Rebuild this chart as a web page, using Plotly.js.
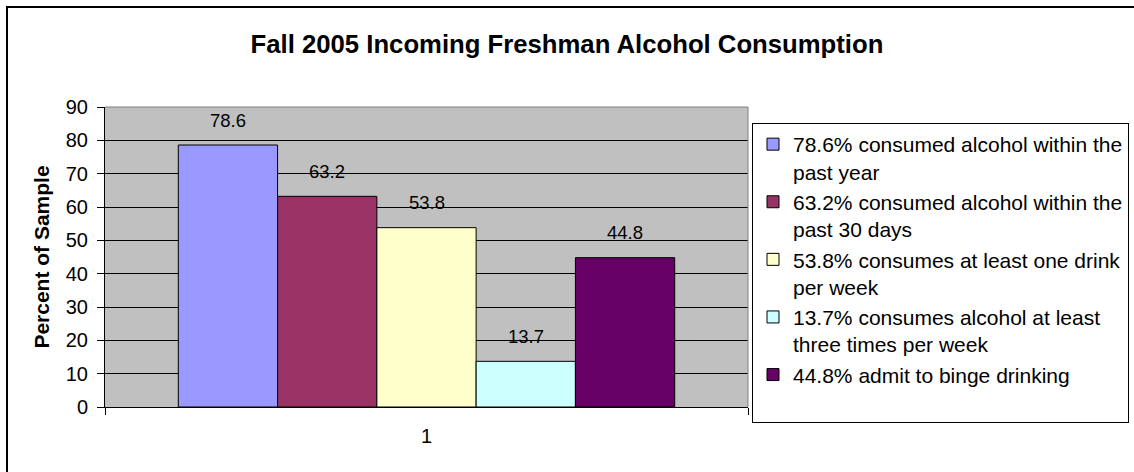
<!DOCTYPE html>
<html>
<head>
<meta charset="utf-8">
<script src="https://cdn.plot.ly/plotly-3.0.1.min.js"></script>
<style>
  html, body { margin: 0; padding: 0; background: #ffffff; }
  #chart { width: 1134px; height: 472px; }
</style>
</head>
<body>
<div id="chart"></div>
<script>
// ---- data ----
const categories = ['1'];
const seriesNames = [
  '78.6% consumed alcohol within the<br>past year',
  '63.2% consumed alcohol within the<br>past 30 days',
  '53.8% consumes at least one drink<br>per week',
  '13.7% consumes alcohol at least<br>three times per week',
  '44.8% admit to binge drinking<br> '
];
const seriesValues = [78.6, 63.2, 53.8, 13.7, 44.8];
const seriesColors = ['#9999FF', '#993366', '#FFFFCC', '#CCFFFF', '#660066'];
const yTicks = [0, 10, 20, 30, 40, 50, 60, 70, 80, 90];

// ---- layout constants ----
const W = 1134, H = 472;
const M = { l: 105, r: 386, t: 107, b: 65, autoexpand: false };
const plotW = W - M.l - M.r;
const plotH = H - M.t - M.b;
const bargap = 0.228;
const barPx = plotW * (1 - bargap) / seriesValues.length;
const FONT = 'Liberation Sans, Arial, Helvetica, sans-serif';

const traces = seriesValues.map((v, i) => ({
  type: 'bar',
  x: categories,
  y: [v],
  name: seriesNames[i],
  legendgroup: 'g' + i,
  marker: { color: seriesColors[i], line: { color: '#000000', width: 1 } },
  hoverinfo: 'skip'
}));

const annotations = seriesValues.map((v, i) => ({
  xref: 'x', yref: 'y',
  x: 0, y: v,               // category index 0 = categories[0]
  text: String(v),
  showarrow: false,
  xanchor: 'center', yanchor: 'middle',
  xshift: (i - (seriesValues.length - 1) / 2) * barPx,
  yshift: 25,
  font: { family: FONT, size: 18.5, color: '#000000' }
}));

const px2x = p => (p - M.l) / plotW;
const px2y = p => (H - M.b - p) / plotH;

const shapes = [
  // outer chart border (top & left visible)
  { type: 'rect', xref: 'paper', yref: 'paper',
    x0: px2x(7), x1: px2x(W + 20), y0: px2y(H + 20), y1: px2y(7),
    line: { color: '#000000', width: 2 }, fillcolor: 'rgba(0,0,0,0)', layer: 'above' },
  // plot area border top/right (gray)
  { type: 'line', xref: 'paper', yref: 'paper', x0: 0, x1: 1, y0: 1, y1: 1,
    line: { color: '#808080', width: 1 }, layer: 'above' },
  { type: 'line', xref: 'paper', yref: 'paper', x0: 1, x1: 1, y0: 0, y1: 1,
    line: { color: '#808080', width: 1 }, layer: 'above' }
];

const layout = {
  width: W, height: H,
  margin: M,
  paper_bgcolor: '#ffffff',
  plot_bgcolor: '#C0C0C0',
  font: { family: FONT, color: '#000000' },
  title: {
    text: '<b>Fall 2005 Incoming Freshman Alcohol Consumption</b>',
    font: { family: FONT, size: 25.7, color: '#000000' },
    x: 0.5, xanchor: 'center', xref: 'container',
    y: 1 - 44 / H, yanchor: 'middle', yref: 'container'
  },
  barmode: 'group',
  bargap: bargap,
  bargroupgap: 0,
  showlegend: true,
  legend: {
    x: px2x(752), xanchor: 'left',
    y: px2y(123), yanchor: 'top',
    bgcolor: '#ffffff',
    bordercolor: '#000000', borderwidth: 1,
    font: { family: FONT, size: 21, color: '#000000' },
    valign: 'top',
    tracegroupgap: 9.5,
    traceorder: 'normal'
  },
  xaxis: {
    type: 'category',
    range: [-0.5, 0.5],
    tickson: 'boundaries',
    ticks: 'outside', ticklen: 7, tickcolor: '#000000', tickwidth: 1,
    showline: true, linecolor: '#000000', linewidth: 1,
    showgrid: false, zeroline: false,
    tickfont: { family: FONT, size: 20, color: '#000000' },
    ticklabelstandoff: 11,
    fixedrange: true
  },
  yaxis: {
    range: [0, 90],
    tickmode: 'array', tickvals: yTicks, ticktext: yTicks.map(String),
    ticks: 'outside', ticklen: 7, tickcolor: '#000000', tickwidth: 1,
    showline: true, linecolor: '#000000', linewidth: 1,
    showgrid: true, gridcolor: '#000000', gridwidth: 1,
    zeroline: false,
    tickfont: { family: FONT, size: 20, color: '#000000' },
    ticklabelstandoff: 5,
    title: { text: '<b>Percent of Sample</b>', font: { family: FONT, size: 21, color: '#000000' }, standoff: 10 },
    automargin: false,
    fixedrange: true
  },
  annotations: annotations,
  shapes: shapes
};

Plotly.newPlot('chart', traces, layout, { displayModeBar: false, staticPlot: true });
</script>
</body>
</html>
